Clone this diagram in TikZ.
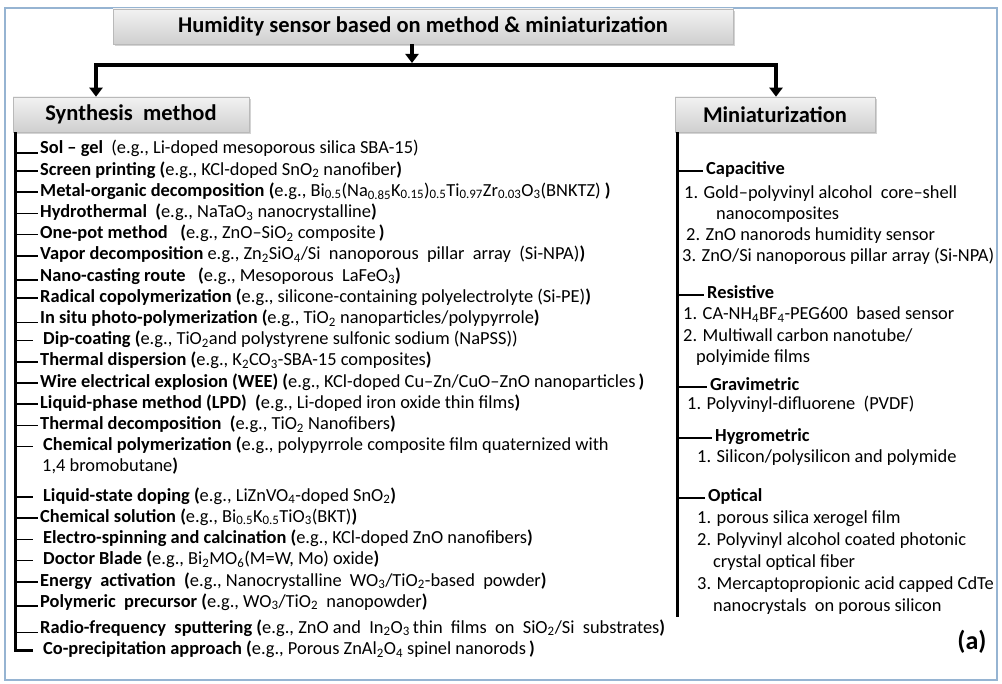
\documentclass[tikz,border=0pt]{standalone}
\usepackage{fontspec}
\setmainfont{Carlito}
\usetikzlibrary{arrows.meta,shadows,calc}

\newcommand\lsub[1]{\textsubscript{#1}}

\tikzset{
  frame/.style={draw={rgb,255:red,150;green,180;blue,210}, line width=1.2pt},
  headbox/.style={draw=gray!55, line width=0.6pt, top color=gray!10, bottom color=gray!38,
    minimum height=35pt, inner sep=0pt, font=\fontsize{22.5}{26}\selectfont\bfseries,
    drop shadow={shadow xshift=2pt, shadow yshift=-2.5pt, opacity=0.35}},
  tip/.tip={Triangle[width=13pt,length=9pt]},
  flow/.style={line width=4pt},
  trunk/.style={line width=2.6pt},
  twig/.style={line width=1.6pt},
  item/.style={anchor=base west, inner sep=0pt, text height=12.5pt, text depth=4pt,
    font=\fontsize{18.4}{22}\selectfont},
  cat/.style={item, font=\fontsize{18.4}{22}\selectfont\bfseries},
}

\begin{document}
\begin{tikzpicture}[x=1pt, y=-1pt]
\useasboundingbox (0,0) rectangle (1002,684);
\draw[frame] (5,8) rectangle (997,680);

% headings
\node[headbox, minimum width=620pt] (title) at (423,26.5) {Humidity sensor based on method \& miniaturization};
\node[headbox, minimum width=236pt] (synth) at (131,114.5) {Synthesis\ \ method};
\node[headbox, minimum width=200pt] (mini) at (775,114.5) {Miniaturization};

% distribution arrows
\coordinate (hub) at (412,65);
\coordinate (lb) at (96,65);
\coordinate (rb) at (776,65);
\draw[flow, -tip] (title.south -| hub) -- ($(hub)+(0,-2)$);
\draw[flow, tip-tip] (synth.north -| lb) -- (lb) -- (rb) -- (mini.north -| rb);

% synthesis methods
\node[item] (s1) at (40,154.0) {\textbf{Sol – gel}\ \ (e.g., Li-doped mesoporous silica SBA-15)};
\node[item] (s2) at (40,175.2) {\textbf{Screen printing (}e.g., KCl-doped SnO\lsub{2} nanofiber\textbf{)}};
\node[item] (s3) at (40,196.4) {\textbf{Metal-organic decomposition}\ \textbf{(}e.g., Bi\lsub{0.5}(Na\lsub{0.85}K\lsub{0.15})\lsub{0.5}Ti\lsub{0.97}Zr\lsub{0.03}O\lsub{3}(BNKTZ)\ \textbf{)}};
\node[item] (s4) at (40,217.6) {\textbf{Hydrothermal}\ \ \textbf{(}e.g., NaTaO\lsub{3} nanocrystalline\textbf{)}};
\node[item] (s5) at (40,238.8) {\textbf{One-pot method}\ \ \ \textbf{(}e.g., ZnO–SiO\lsub{2} composite\,\textbf{)}};
\node[item] (s6) at (40,260.0) {\textbf{Vapor decomposition} e.g., Zn\lsub{2}SiO\lsub{4}/Si\ \ nanoporous\ \ pillar\ \ array\ \ (Si-NPA)\textbf{)}};
\node[item] (s7) at (40,281.2) {\textbf{Nano-casting route}\ \ \ \textbf{(}e.g., Mesoporous\ \ LaFeO\lsub{3}\textbf{)}};
\node[item] (s8) at (40,302.4) {\textbf{Radical copolymerization (}e.g., silicone-containing polyelectrolyte (Si-PE)\textbf{)}};
\node[item] (s9) at (40,323.6) {\textbf{In situ photo-polymerization (}e.g., TiO\lsub{2} nanoparticles/polypyrrole\textbf{)}};
\node[item] (s10) at (43,344.8) {\textbf{Dip-coating (}e.g., TiO\lsub{2}and polystyrene sulfonic sodium (NaPSS))};
\node[item] (s11) at (40,366.0) {\textbf{Thermal dispersion (}e.g., K\lsub{2}CO\lsub{3}-SBA-15 composites\textbf{)}};
\node[item] (s12) at (40,387.2) {\textbf{Wire electrical explosion (WEE) (}e.g., KCl-doped Cu–Zn/CuO–ZnO nanoparticles\,\textbf{)}};
\node[item] (s13) at (40,408.4) {\textbf{Liquid-phase method (LPD)}\ \ \textbf{(}e.g., Li-doped iron oxide thin films\textbf{)}};
\node[item] (s14) at (40,429.6) {\textbf{Thermal decomposition}\ \ \textbf{(}e.g., TiO\lsub{2} Nanofibers\textbf{)}};
\node[item] (s15) at (43,450.8) {\textbf{Chemical polymerization (}e.g., polypyrrole composite film quaternized with};
\node[item] (s16) at (42,472.0) {1,4 bromobutane\textbf{)}};
\node[item] (s17) at (43,501.2) {\textbf{Liquid-state doping (}e.g., LiZnVO\lsub{4}-doped SnO\lsub{2}\textbf{)}};
\node[item] (s18) at (40,522.4) {\textbf{Chemical solution (}e.g., Bi\lsub{0.5}K\lsub{0.5}TiO\lsub{3}(BKT)\textbf{)}};
\node[item] (s19) at (43,543.6) {\textbf{Electro-spinning and calcination (}e.g., KCl-doped ZnO nanofibers\textbf{)}};
\node[item] (s20) at (43,564.8) {\textbf{Doctor Blade (}e.g., Bi\lsub{2}MO\lsub{6}(M=W, Mo) oxide\textbf{)}};
\node[item] (s21) at (40,586.0) {\textbf{Energy\ \ activation}\ \ \textbf{(}e.g., Nanocrystalline\ \ WO\lsub{3}/TiO\lsub{2}-based\ \ powder\textbf{)}};
\node[item] (s22) at (40,607.2) {\textbf{Polymeric\ \ precursor (}e.g., WO\lsub{3}/TiO\lsub{2}\ \ nanopowder\textbf{)}};
\node[item] (s23) at (40,633.4) {\textbf{Radio-frequency\ \ sputtering (}e.g., ZnO and\ \ In\lsub{2}O\lsub{3}\,thin\ \ films\ \ on\ \ SiO\lsub{2}/Si\ \ substrates\textbf{)}};
\node[item] (s24) at (43,654.6) {\textbf{Co-precipitation approach (}e.g., Porous ZnAl\lsub{2}O\lsub{4} spinel nanorods\,\textbf{)}};

% synthesis tree
\coordinate (ltop) at ([xshift=3pt]synth.south west);
\draw[trunk] (ltop) |- ([xshift=-10pt]s24.west);
\foreach \n in {s2,s3,s4,s5,s6,s8,s11,s12,s13,s14,s18,s21}
  \draw[twig] (ltop |- \n.west) -- ([xshift=-2pt]\n.west);
\foreach \n in {s10,s15,s17,s19,s20}
  \draw[twig] (ltop |- \n.west) -- ([xshift=-10pt]\n.west);
\foreach \n in {s1,s7,s9,s22,s23}
  \draw[twig] ($(ltop |- \n.base west)+(0,-1)$) -- ($(\n.base west)+(-2,-1)$);

% miniaturization list
\node[cat]  (m1)  at (706,175) {Capacitive};
\node[item] (m2)  at (684,199) {1. Gold–polyvinyl alcohol\ \ core–shell};
\node[item] (m3)  at (716,220) {nanocomposites};
\node[item] (m4)  at (686,241) {2. ZnO nanorods humidity sensor};
\node[item] (m5)  at (682,262) {3. ZnO/Si nanoporous pillar array (Si-NPA)};
\node[cat]  (m6)  at (707,299) {Resistive};
\node[item] (m7)  at (683,320) {1. CA-NH\lsub{4}BF\lsub{4}-PEG600\ \ based sensor};
\node[item] (m8)  at (683,342) {2. Multiwall carbon nanotube/};
\node[item] (m9)  at (696,363) {polyimide films};
\node[cat]  (m10) at (710,391) {Gravimetric};
\node[item] (m11) at (687,410) {1. Polyvinyl-difluorene\ \ (PVDF)};
\node[cat]  (m12) at (715,442) {Hygrometric};
\node[item] (m13) at (697,463) {1. Silicon/polysilicon and polymide};
\node[cat]  (m14) at (708,502) {Optical};
\node[item] (m15) at (697,523) {1. porous silica xerogel film};
\node[item] (m16) at (697,545) {2. Polyvinyl alcohol coated photonic};
\node[item] (m17) at (713,567) {crystal optical fiber};
\node[item] (m18) at (697,589) {3. Mercaptopropionic acid capped CdTe};
\node[item] (m19) at (713,611) {nanocrystals\ \ on porous silicon};

% miniaturization tree
\coordinate (rtop) at ([xshift=3pt]mini.south west);
\draw[trunk, line width=3pt] (rtop) -- ($(rtop |- m19.base west)+(0,6)$);
\foreach \n in {m1,m6,m10,m12,m14}
  \draw[twig, line width=2pt] (rtop |- \n.west) -- ([xshift=-3pt]\n.west);

\node[font=\fontsize{26}{30}\selectfont\bfseries] (lbl) at (972,642) {(a)};
\end{tikzpicture}
\end{document}
